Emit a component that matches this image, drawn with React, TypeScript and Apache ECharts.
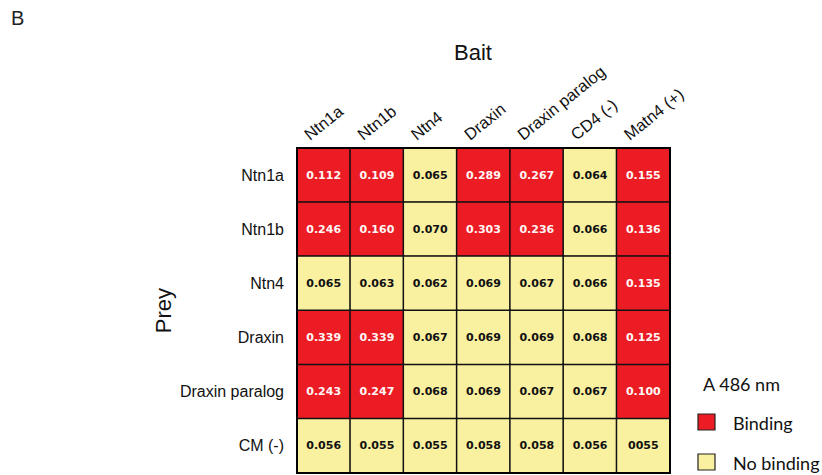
import React, { useEffect, useRef } from "react";
import * as echarts from "echarts";

// Bait proteins (columns) and prey proteins (rows)
const baits = ["Ntn1a", "Ntn1b", "Ntn4", "Draxin", "Draxin paralog", "CD4 (-)", "Matn4 (+)"];
const preys = ["Ntn1a", "Ntn1b", "Ntn4", "Draxin", "Draxin paralog", "CM (-)"];

// Absorbance at 486 nm, one array per prey row
const rowNtn1a = [0.112, 0.109, 0.065, 0.289, 0.267, 0.064, 0.155];
const rowNtn1b = [0.246, 0.16, 0.07, 0.303, 0.236, 0.066, 0.136];
const rowNtn4 = [0.065, 0.063, 0.062, 0.069, 0.067, 0.066, 0.135];
const rowDraxin = [0.339, 0.339, 0.067, 0.069, 0.069, 0.068, 0.125];
const rowDraxinParalog = [0.243, 0.247, 0.068, 0.069, 0.067, 0.067, 0.1];
const rowCM = [0.056, 0.055, 0.055, 0.058, 0.058, 0.056, 0.055];
const rows = [rowNtn1a, rowNtn1b, rowNtn4, rowDraxin, rowDraxinParalog, rowCM];

// Printed value text that differs from the default 3-decimal format (row,col)
const labelOverrides: Record<string, string> = { "5,6": "0055" };

// Binding threshold on A486
const bindingThreshold = 0.09;

const RED = "#ec1c24";
const YELLOW = "#f9f0a0";
const SANS = "Arial";
const HAND = "Lato";

export default function App() {
  const ref = useRef<HTMLDivElement>(null);

  useEffect(() => {
    if (!ref.current) return;
    const chart = echarts.init(ref.current, null, { renderer: "svg" });

    const data = [] as any[];
    rows.forEach((row, r) =>
      row.forEach((v, c) =>
        data.push({
          value: [c, r, v],
          label: { color: v >= bindingThreshold ? "#fff6f6" : "#111" },
        })
      )
    );

    const gridLeft = 297;
    const gridTop = 148;
    const gridW = 373;
    const gridH = 325;

    chart.setOption({
      animation: false,
      backgroundColor: "#ffffff",
      grid: {
        left: gridLeft,
        top: gridTop,
        width: gridW,
        height: gridH,
        show: true,
        borderColor: "#000",
        borderWidth: 2,
        backgroundColor: "transparent",
        z: 10,
      },
      xAxis: {
        type: "category",
        data: baits,
        position: "top",
        axisLine: { show: false },
        axisTick: { show: false },
        axisLabel: { show: false },
        splitLine: { show: false },
      },
      yAxis: {
        type: "category",
        data: preys,
        inverse: true,
        axisLine: { show: false },
        axisTick: { show: false },
        splitLine: { show: false },
        axisLabel: {
          margin: 13,
          fontFamily: SANS,
          fontSize: 16,
          color: "#111",
        },
        name: "Prey",
        nameLocation: "middle",
        nameRotate: 90,
        nameGap: 123,
        nameTextStyle: {
          fontFamily: SANS,
          fontSize: 22,
          color: "#111",
        },
      },
      visualMap: {
        show: false,
        type: "piecewise",
        dimension: 2,
        pieces: [
          { lt: bindingThreshold, color: YELLOW },
          { gte: bindingThreshold, color: RED },
        ],
      },
      series: [
        {
          type: "heatmap",
          data,
          itemStyle: { borderColor: "#111", borderWidth: 1.5 },
          label: {
            show: true,
            fontFamily: "DejaVu Sans",
            fontWeight: "bold",
            fontSize: 11,
            formatter: (p: any) => {
              const [c, r, v] = p.value;
              return labelOverrides[`${r},${c}`] ?? v.toFixed(3);
            },
          },
          emphasis: { disabled: true },
        },
      ],
    });

    const rot = (39 * Math.PI) / 180;
    const baitLabels = baits.map((b) => {
      const cx = chart.convertToPixel({ xAxisIndex: 0 }, b) as number;
      return {
        type: "text",
        x: cx - 12,
        y: 143,
        rotation: rot,
        style: {
          text: b,
          fontFamily: SANS,
          fontSize: 16.5,
          fill: "#111",
          align: "left",
          verticalAlign: "bottom",
        },
      };
    });

    const legendText = (text: string, x: number, y: number) => ({
      type: "text",
      x,
      y,
      style: {
        text,
        fontFamily: HAND,
        fontSize: 18,
        fill: "#111",
        align: "left",
        verticalAlign: "middle",
      },
    });

    chart.setOption({
      graphic: [
        {
          type: "text",
          x: 11,
          y: 8,
          style: { text: "B", fontFamily: SANS, fontSize: 20, fill: "#222" },
        },
        {
          type: "text",
          x: 473,
          y: 52,
          style: {
            text: "Bait",
            fontFamily: SANS,
            fontSize: 22,
            fill: "#111",
            align: "center",
            verticalAlign: "middle",
          },
        },
        ...baitLabels,
        legendText("A 486 nm", 703, 384),
        {
          type: "rect",
          shape: { x: 698, y: 414, width: 17, height: 16 },
          style: { fill: RED, stroke: "#222", lineWidth: 1.2 },
        },
        legendText("Binding", 733, 423),
        {
          type: "rect",
          shape: { x: 698, y: 454, width: 17, height: 16 },
          style: { fill: YELLOW, stroke: "#222", lineWidth: 1.2 },
        },
        legendText("No binding", 733, 463),
      ],
    });

    return () => chart.dispose();
  }, []);

  return (
    <div
      ref={ref}
      style={{ position: "fixed", left: 0, top: 0, width: 822, height: 475 }}
    />
  );
}
